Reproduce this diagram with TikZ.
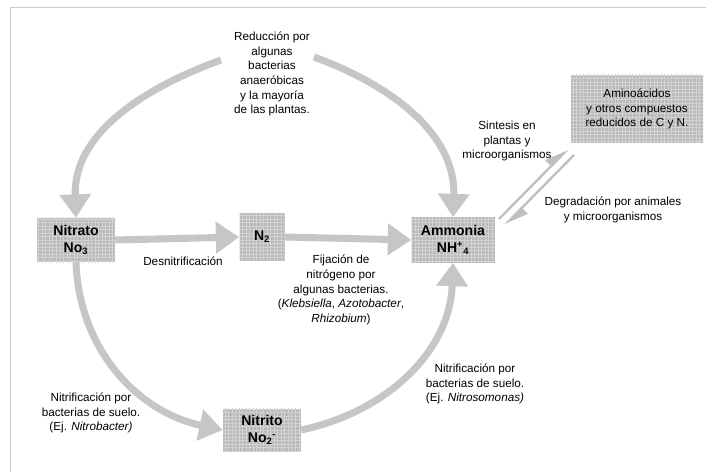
\documentclass[tikz,border=0pt]{standalone}
\usepackage{fontspec}
\setmainfont{Liberation Sans}
\usetikzlibrary{arrows.meta,patterns}
\tikzstyle{box}=[fill=gray!55,postaction={pattern=grid,pattern color=gray!35},inner sep=2pt,font=\fontsize{12}{14}\selectfont\bfseries]
\tikzstyle{flow}=[draw=gray!45,line width=6pt,-{Triangle[width=26pt,length=20pt]}]
\tikzstyle{thin flow}=[draw=gray!50,line width=2pt,-{Triangle[harpoon,width=14pt,length=18pt]}]
\tikzstyle{remark}=[font=\fontsize{10}{12.5}\selectfont]

\begin{document}
\begin{tikzpicture}[x=0.03cm,y=0.03cm,align=center]
    \useasboundingbox (0,0) rectangle (713,472);
    \draw[gray!40] (10,0) -- (10,465) -- (706,465);
    % boxes
    \node[box,minimum width=2.34cm,minimum height=1.32cm] (nitrato) at (76,232) {Nitrato\\No\textsubscript{3}};
    \node[box,minimum width=1.35cm,minimum height=1.41cm] (ntwo) at (262,235) {N\textsubscript{2}};
    \node[box,minimum width=2.49cm,minimum height=1.35cm] (ammonia) at (453,232) {Ammonia\\NH\textsuperscript{+}\textsubscript{4}};
    \node[box,minimum width=2.34cm,minimum height=1.29cm] (nitrito) at (262,42) {Nitrito\\No\textsubscript{2}\textsuperscript{-}};
    \node[box,minimum width=3.96cm,minimum height=2.04cm,font=\fontsize{10}{12.5}\selectfont] (amino) at (637,363) {Aminoácidos\\y otros compuestos\\reducidos de C y N.};
    % labels
    \node[remark] (reduccion) at (272,398) {Reducción por\\algunas\\bacterias\\anaeróbicas\\y la mayoría\\de las plantas.};
    \node[remark] (sintesis) at (507,331) {Sintesis en\\plantas y\\microorganismos};
    \node[remark] (degradacion) at (613,262) {Degradación por animales\\y microorganismos};
    \node[remark] (desnitri) at (183,211) {Desnitrificación};
    \node[remark] (fijacion) at (341,182) {Fijación de\\nitrógeno por\\algunas bacterias.\\(\textit{Klebsiella}, \textit{Azotobacter},\\\textit{Rhizobium})};
    \node[remark] (nitrifA) at (91,59) {Nitrificación por\\bacterias de suelo.\\(Ej. \textit{Nitrobacter)}};
    \node[remark] (nitrifB) at (475,88) {Nitrificación por\\bacterias de suelo.\\(Ej. \textit{Nitrosomonas)}};
    % free ends
    \coordinate (redL) at (221,412);
    \coordinate (redR) at (314,415);
    \coordinate (synA) at (499,253);
    \coordinate (synB) at (568,323);
    \coordinate (degA) at (574,317);
    \coordinate (degB) at (505,247);
    % big arrows
    \path[flow] (redL) to[out=200,in=92] (nitrato.north);
    \path[flow] (redR) to[out=-20,in=88] (ammonia.north);
    \foreach \source/\dest in {nitrato/ntwo, ntwo/ammonia}
        \path[flow] (\source.east) -- (\dest.west);
    \path[flow] (nitrato.south) to[out=-88,in=168] (nitrito.west);
    \path[flow] (nitrito.east) to[out=12,in=-92] (ammonia.south);
    % thin arrows
    \path[thin flow] (synA) -- (synB);
    \path[thin flow] (degA) -- (degB);
\end{tikzpicture}
\end{document}
